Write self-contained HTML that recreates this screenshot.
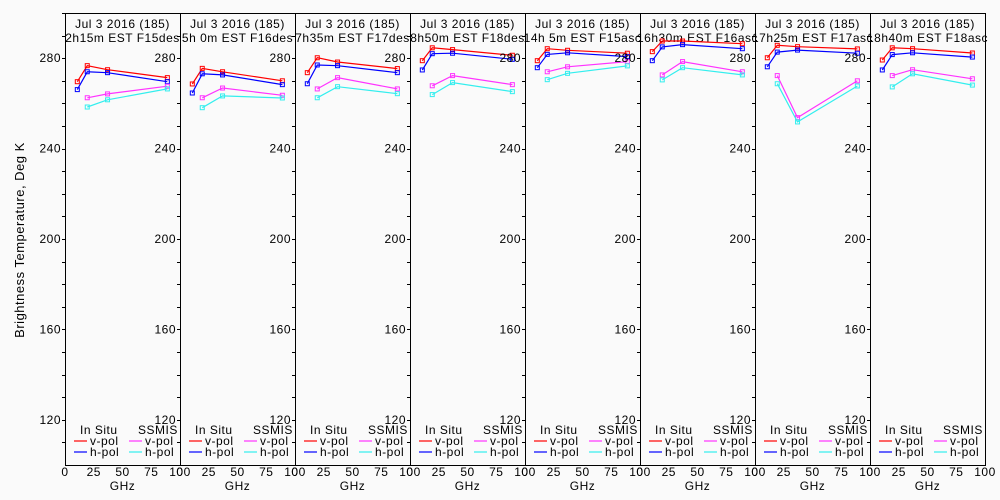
<!DOCTYPE html>
<html><head><meta charset="utf-8"><style>
html,body{margin:0;padding:0;background:#fafafa;}
svg{display:block;font-family:"Liberation Sans",sans-serif;}
text{letter-spacing:0.5px;}
</style></head><body>
<svg id="chart" width="1000" height="500" xmlns="http://www.w3.org/2000/svg">
<rect x="0" y="0" width="1000" height="500" fill="#fafafa"/>
</svg>
<script>
const titles1 = ["Jul 3 2016 (185)","Jul 3 2016 (185)","Jul 3 2016 (185)","Jul 3 2016 (185)","Jul 3 2016 (185)","Jul 3 2016 (185)","Jul 3 2016 (185)","Jul 3 2016 (185)"];
const titles2 = ["2h15m EST F15des","5h 0m EST F16des","7h35m EST F17des","8h50m EST F18des","14h 5m EST F15asc","16h30m EST F16asc","17h25m EST F17asc","18h40m EST F18asc"];
const insituFreqs = [10.7, 19.35, 37, 89];
const ssmisFreqs = [19.35, 37, 89];
const insituV = [[269.6,276.7,274.9,271.4],[268.6,275.5,274.0,270.0],[273.6,280.2,278.3,275.4],[278.9,284.6,283.8,281.3],[278.9,284.2,283.5,282.2],[282.9,287.6,287.6,286.4],[280.2,285.7,285.1,284.1],[279.2,284.6,284.2,282.3]];
const insituH = [[266.1,274.0,273.6,269.6],[264.6,273.1,272.6,268.3],[268.7,277.0,276.7,273.6],[274.8,282.0,282.2,279.5],[275.8,281.7,282.4,280.7],[278.9,285.0,286.0,284.2],[276.2,282.7,283.6,282.2],[274.8,281.6,282.4,280.5]];
const ssmisV = [[262.5,264.2,267.6],[262.5,266.8,263.6],[266.4,271.4,266.4],[267.8,272.3,268.3],[274.0,276.2,278.5],[272.6,278.5,274.0],[272.3,253.7,270.0],[272.3,274.9,270.9]];
const ssmisH = [[258.4,261.6,266.4],[258.1,263.3,262.4],[262.5,267.4,264.3],[263.9,269.2,265.2],[270.5,273.3,276.6],[270.4,275.8,272.6],[268.7,251.8,267.7],[267.3,273.1,268.1]];
const yTickLabels = [120,160,200,240,280];
const xTickLabels = [0,25,50,75,100];

const NS="http://www.w3.org/2000/svg";
const svg=document.getElementById('chart');
const P0=65, PW=115, TOP=13, BOT=465, YMIN=100, YMAX=300;
function sx(i,f){return P0+i*PW+f*PW/100;}
function sy(v){return TOP+(YMAX-v)*(BOT-TOP)/(YMAX-YMIN);}
function mk(tag,attrs,parent){const e=document.createElementNS(NS,tag);for(const k in attrs)e.setAttribute(k,attrs[k]);(parent||svg).appendChild(e);return e;}
function txt(x,y,s,anchor,parent,size){const t=mk('text',{x:x,y:y,'font-size':size||12,'text-anchor':anchor||'start',fill:'#000'},parent);t.textContent=s;return t;}

const yt=txt(24,240,'Brightness Temperature, Deg K','middle',svg,13);
yt.setAttribute('transform','rotate(-90 24 240)');



for(let i=0;i<8;i++){
  const g=mk('g',{});
  
  
  const x0=P0+i*PW;
  const fr=mk('rect',{x:x0+0.5,y:TOP+0.5,width:PW,height:BOT-TOP,fill:'none',stroke:'#000','stroke-width':1},g);
  
  
  for(let v=110;v<=300;v+=10){
    mk('line',{x1:x0-3,x2:x0+0.5,y1:Math.round(sy(v))+0.5,y2:Math.round(sy(v))+0.5,stroke:'#000'},g);
  }
  yTickLabels.forEach(v=>{
    const t=txt(x0-4,sy(v)+4,String(v),'end',g);
    
    
  });
  xTickLabels.forEach(v=>{
    const t=txt(sx(i,v),476,String(v),'middle',g);
    
    
  });
  const xl=txt(x0+PW/2,490,'GHz','middle',g);
  
  
  const t1=txt(x0+PW/2,28,titles1[i],'middle',g);
  
  
  const t2=txt(x0+PW/2,42,titles2[i],'middle',g);
  
  
  const series=[[insituFreqs,insituV[i],'#ff0000','insitu-vpol'],[insituFreqs,insituH[i],'#0000ff','insitu-hpol'],[ssmisFreqs,ssmisV[i],'#ff33ff','ssmis-vpol'],[ssmisFreqs,ssmisH[i],'#33eeee','ssmis-hpol']];
  series.forEach(([fs,vs,c,n])=>{
    const pts=fs.map((f,k)=>sx(i,f).toFixed(1)+','+sy(vs[k]).toFixed(1)).join(' ');
    const pl=mk('polyline',{points:pts,fill:'none',stroke:c,'stroke-width':1.2},g);
    
    
    fs.forEach((f,k)=>{
      const r=mk('rect',{x:sx(i,f)-2,y:sy(vs[k])-2,width:4,height:4,fill:'none',stroke:c,'stroke-width':1},g);
      
      
    });
  });
  const lg=mk('g',{},g);
  
  
  txt(x0+15,434,'In Situ','start',lg);
  txt(x0+73,434,'SSMIS','start',lg);
  [['v-pol','#ff0000','#ff33ff',445],['h-pol','#0000ff','#33eeee',456]].forEach(([lab,c1,c2,yy])=>{
    mk('line',{x1:x0+9,x2:x0+22,y1:yy-4,y2:yy-4,stroke:c1,'stroke-width':1.2},lg);
    txt(x0+25,yy,lab,'start',lg);
    mk('line',{x1:x0+64,x2:x0+77,y1:yy-4,y2:yy-4,stroke:c2,'stroke-width':1.2},lg);
    txt(x0+80,yy,lab,'start',lg);
  });
}
</script>
</body></html>
